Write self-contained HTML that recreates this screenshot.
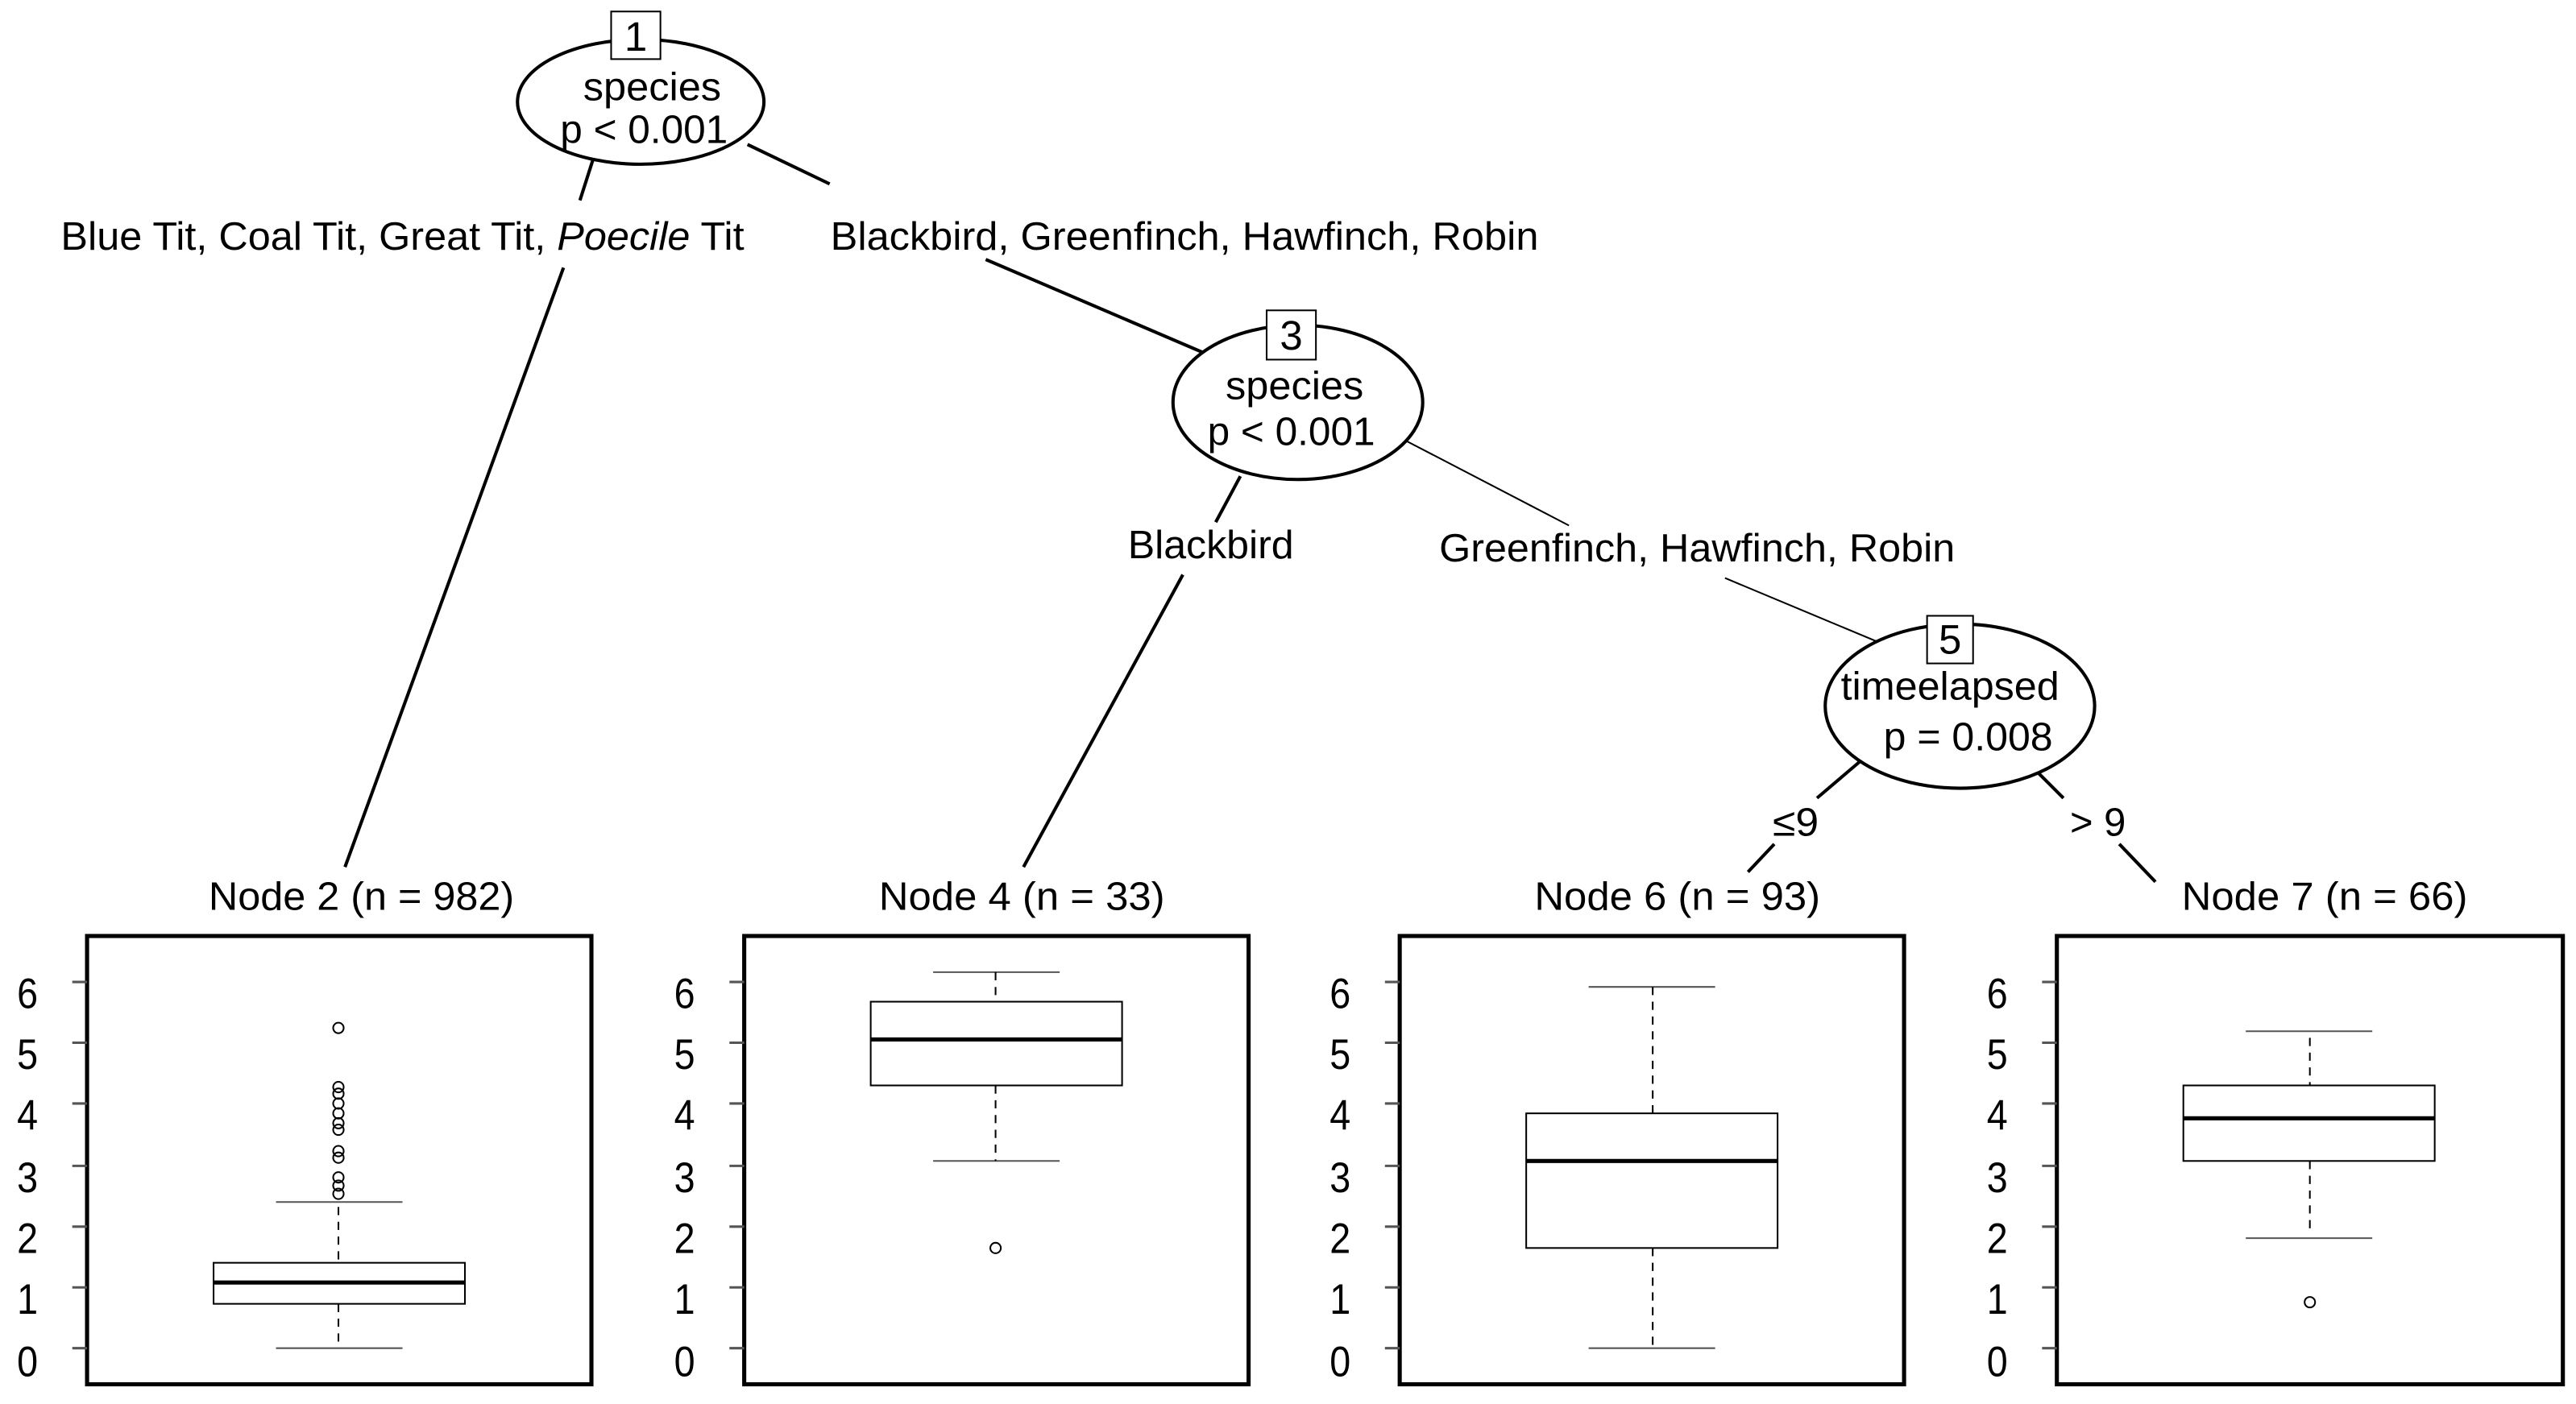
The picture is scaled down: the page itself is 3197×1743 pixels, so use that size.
<!DOCTYPE html>
<html><head><meta charset="utf-8"><style>html,body{margin:0;padding:0;background:#fff}svg{display:block}</style></head>
<body>
<svg width="3197" height="1743" viewBox="0 0 1568 855" preserveAspectRatio="none" xmlns="http://www.w3.org/2000/svg" font-family="Liberation Sans, Arial, sans-serif" font-size="24" fill="#000">
<g stroke="#000" stroke-width="2" fill="none">
<line x1="361" y1="97" x2="353" y2="122"/>
<line x1="343" y1="163" x2="210" y2="528"/>
<line x1="455" y1="88" x2="505" y2="112"/>
<line x1="600" y1="158" x2="733" y2="215"/>
<line x1="755" y1="290" x2="740" y2="318"/>
<line x1="720" y1="350" x2="623" y2="528"/>
<line x1="855" y1="268" x2="955" y2="320" stroke-width="1"/>
<line x1="1050" y1="352" x2="1160" y2="398" stroke-width="1"/>
<line x1="1133" y1="463" x2="1106" y2="486"/>
<line x1="1080" y1="514" x2="1064" y2="531"/>
<line x1="1240" y1="470" x2="1256" y2="486"/>
<line x1="1290" y1="514" x2="1312" y2="537"/>
<ellipse cx="390" cy="62" rx="75" ry="38" fill="#fff"/>
<ellipse cx="790" cy="245" rx="76" ry="47" fill="#fff"/>
<ellipse cx="1193" cy="430" rx="82" ry="50" fill="#fff"/>
</g>
<g stroke="#000" stroke-width="1" fill="#fff">
<rect x="372" y="7" width="30" height="29"/>
<rect x="771" y="189" width="30" height="30"/>
<rect x="1173" y="375" width="28" height="29"/>
</g>
<g text-anchor="middle" lengthAdjust="spacingAndGlyphs">
<text x="387" y="31" font-size="25">1</text>
<text x="397" y="61" textLength="84" lengthAdjust="spacingAndGlyphs">species</text>
<text x="392" y="87" textLength="102" lengthAdjust="spacingAndGlyphs">p &lt; 0.001</text>
<text x="786" y="213" font-size="25">3</text>
<text x="788" y="243" textLength="84" lengthAdjust="spacingAndGlyphs">species</text>
<text x="786" y="271" textLength="102" lengthAdjust="spacingAndGlyphs">p &lt; 0.001</text>
<text x="1187" y="398" font-size="25">5</text>
<text x="1187" y="426" textLength="133" lengthAdjust="spacingAndGlyphs">timeelapsed</text>
<text x="1198" y="457" textLength="103" lengthAdjust="spacingAndGlyphs">p = 0.008</text>
<text x="245" y="152" textLength="416" lengthAdjust="spacingAndGlyphs">Blue Tit, Coal Tit, Great Tit, <tspan font-style="italic">Poecile</tspan> Tit</text>
<text x="721" y="152" textLength="431" lengthAdjust="spacingAndGlyphs">Blackbird, Greenfinch, Hawfinch, Robin</text>
<text x="737" y="340" textLength="101" lengthAdjust="spacingAndGlyphs">Blackbird</text>
<text x="1033" y="342" textLength="314" lengthAdjust="spacingAndGlyphs">Greenfinch, Hawfinch, Robin</text>
<text x="1093" y="509" textLength="28" lengthAdjust="spacingAndGlyphs">≤9</text>
<text x="1277" y="509" textLength="34" lengthAdjust="spacingAndGlyphs">&gt; 9</text>
<text x="220" y="554" textLength="186" lengthAdjust="spacingAndGlyphs">Node 2 (n = 982)</text>
<text x="622" y="554" textLength="174" lengthAdjust="spacingAndGlyphs">Node 4 (n = 33)</text>
<text x="1021" y="554" textLength="174" lengthAdjust="spacingAndGlyphs">Node 6 (n = 93)</text>
<text x="1415" y="554" textLength="174" lengthAdjust="spacingAndGlyphs">Node 7 (n = 66)</text>
</g>
<g stroke="#000" fill="none">
<rect x="53" y="570" width="307" height="273" stroke-width="2.5"/>
<rect x="453" y="570" width="307" height="273" stroke-width="2.5"/>
<rect x="852" y="570" width="307" height="273" stroke-width="2.5"/>
<rect x="1252" y="570" width="308" height="273" stroke-width="2.5"/>
</g>
<g stroke="#555" stroke-width="1.5">
<path d="M44 598H53M44 635H53M44 672H53M44 710H53M44 747H53M44 784H53M44 821H53"/>
<path d="M444 598H453M444 635H453M444 672H453M444 710H453M444 747H453M444 784H453M444 821H453"/>
<path d="M843 598H852M843 635H852M843 672H852M843 710H852M843 747H852M843 784H852M843 821H852"/>
<path d="M1243 598H1252M1243 635H1252M1243 672H1252M1243 710H1252M1243 747H1252M1243 784H1252M1243 821H1252"/>
</g>
<g text-anchor="middle" font-size="26">
<g transform="scale(0.88,1)"><text x="19" y="614">6</text><text x="19" y="651">5</text><text x="19" y="688">4</text><text x="19" y="726">3</text><text x="19" y="763">2</text><text x="19" y="800">1</text><text x="19" y="838">0</text></g>
<g transform="translate(400,0) scale(0.88,1)"><text x="19" y="614">6</text><text x="19" y="651">5</text><text x="19" y="688">4</text><text x="19" y="726">3</text><text x="19" y="763">2</text><text x="19" y="800">1</text><text x="19" y="838">0</text></g>
<g transform="translate(799,0) scale(0.88,1)"><text x="19" y="614">6</text><text x="19" y="651">5</text><text x="19" y="688">4</text><text x="19" y="726">3</text><text x="19" y="763">2</text><text x="19" y="800">1</text><text x="19" y="838">0</text></g>
<g transform="translate(1199,0) scale(0.88,1)"><text x="19" y="614">6</text><text x="19" y="651">5</text><text x="19" y="688">4</text><text x="19" y="726">3</text><text x="19" y="763">2</text><text x="19" y="800">1</text><text x="19" y="838">0</text></g>
</g>
<g stroke="#000" fill="none" stroke-width="1">
<rect x="130" y="769" width="153" height="25"/>
<line x1="130" y1="781" x2="283" y2="781" stroke-width="2.5"/>
<line x1="168" y1="732" x2="245" y2="732" stroke="#555"/>
<line x1="168" y1="821" x2="245" y2="821" stroke="#555"/>
<line x1="206" y1="735" x2="206" y2="769" stroke-dasharray="5,4"/>
<line x1="206" y1="794" x2="206" y2="821" stroke-dasharray="5,4"/>
<circle cx="206" cy="626" r="3.2"/><circle cx="206" cy="662" r="3.2"/><circle cx="206" cy="666" r="3.2"/><circle cx="206" cy="672" r="3.2"/><circle cx="206" cy="678" r="3.2"/><circle cx="206" cy="684" r="3.2"/><circle cx="206" cy="688" r="3.2"/><circle cx="206" cy="701" r="3.2"/><circle cx="206" cy="705" r="3.2"/><circle cx="206" cy="717" r="3.2"/><circle cx="206" cy="722" r="3.2"/><circle cx="206" cy="727" r="3.2"/>
<rect x="530" y="610" width="153" height="51"/>
<line x1="530" y1="633" x2="683" y2="633" stroke-width="2.5"/>
<line x1="568" y1="592" x2="645" y2="592" stroke="#555"/>
<line x1="568" y1="707" x2="645" y2="707" stroke="#555"/>
<line x1="606" y1="592" x2="606" y2="610" stroke-dasharray="5,4"/>
<line x1="606" y1="661" x2="606" y2="707" stroke-dasharray="5,4"/>
<circle cx="606" cy="760" r="3.2"/>
<rect x="929" y="678" width="153" height="82"/>
<line x1="929" y1="707" x2="1082" y2="707" stroke-width="2.5"/>
<line x1="967" y1="601" x2="1044" y2="601" stroke="#555"/>
<line x1="967" y1="821" x2="1044" y2="821" stroke="#555"/>
<line x1="1006" y1="601" x2="1006" y2="678" stroke-dasharray="5,4"/>
<line x1="1006" y1="760" x2="1006" y2="821" stroke-dasharray="5,4"/>
<rect x="1329" y="661" width="153" height="46"/>
<line x1="1329" y1="681" x2="1482" y2="681" stroke-width="2.5"/>
<line x1="1367" y1="628" x2="1444" y2="628" stroke="#555"/>
<line x1="1367" y1="754" x2="1444" y2="754" stroke="#555"/>
<line x1="1406" y1="632" x2="1406" y2="661" stroke-dasharray="5,4"/>
<line x1="1406" y1="707" x2="1406" y2="750" stroke-dasharray="5,4"/>
<circle cx="1406" cy="793" r="3.2"/>
</g>
</svg>
</body></html>
